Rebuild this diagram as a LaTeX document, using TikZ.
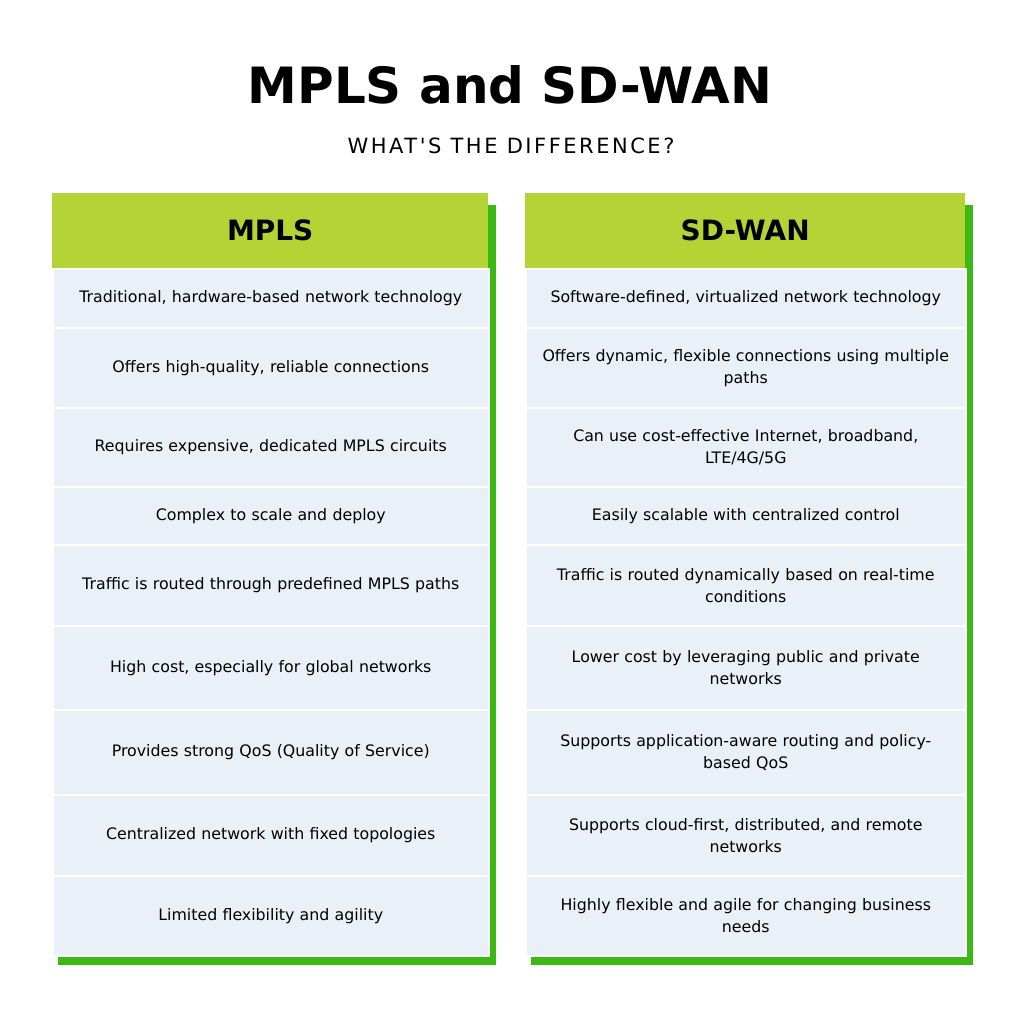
\documentclass[tikz,border=0pt]{standalone}
\usepackage{fontspec}
\setmainfont{DejaVu Sans}
\newfontfamily\spacedfont[LetterSpace=12]{DejaVu Sans}
\usetikzlibrary{positioning}
\definecolor{headgreen}{HTML}{B5D334}
\definecolor{shadegreen}{HTML}{3CB815}
\definecolor{rowfill}{HTML}{EAF0F8}
\tikzset{
  rowcell/.style={draw=white, line width=1.5pt, fill=rowfill, minimum width=436pt, text width=430pt, align=center, inner sep=0pt, font=\fontsize{15.8}{22}\selectfont},
  headcell/.style={fill=headgreen, minimum width=436pt, minimum height=75pt, inner sep=0pt, font=\fontsize{28}{32}\bfseries},
}
\begin{document}
\begin{tikzpicture}[x=1pt,y=-1pt]
  \useasboundingbox[fill=white] (0,0) rectangle (1024,1024);
  \node (title) at (510,85) {\fontsize{50}{60}\bfseries MPLS and SD-WAN};
  \node (subtitle) at (511,146) {\fontsize{21}{24}\selectfont\spacedfont WHAT'S THE DIFFERENCE?};
  % green shadows
  \fill[shadegreen] (58,205) rectangle (496,965);
  \fill[shadegreen] (531,205) rectangle (973,965);
  % header
  \node (lhead) [headcell, anchor=north west] at (52,193) {MPLS};
  \node (rhead) [headcell, anchor=north west, minimum width=440pt] at (525,193) {SD-WAN};
  % rows
  \foreach \ya/\yb/\ltxt/\rtxt [count=\i] in {
    268/327/{Traditional, hardware-based network technology}/{Software-defined, virtualized network technology},
    327/407/{Offers high-quality, reliable connections}/{Offers dynamic, flexible connections using multiple\\paths},
    407/486/{Requires expensive, dedicated MPLS circuits}/{Can use cost-effective Internet, broadband,\\LTE/4G/5G},
    486/544/{Complex to scale and deploy}/{Easily scalable with centralized control},
    544/625/{Traffic is routed through predefined MPLS paths}/{Traffic is routed dynamically based on real-time\\conditions},
    625/709/{High cost, especially for global networks}/{Lower cost by leveraging public and private\\networks},
    709/794/{Provides strong QoS (Quality of Service)}/{Supports application-aware routing and policy-\\based QoS},
    794/875/{Centralized network with fixed topologies}/{Supports cloud-first, distributed, and remote\\networks},
    875/955/{Limited flexibility and agility}/{Highly flexible and agile for changing business\\needs}} {
    \pgfmathsetmacro{\h}{\yb-\ya}
    \node (lrow\i) [rowcell, anchor=north west, minimum height=\h pt] at (52,\ya) {\ltxt};
    \node (rrow\i) [rowcell, anchor=north west, minimum height=\h pt, minimum width=440pt, text width=434pt] at (525,\ya) {\rtxt};
  }
\end{tikzpicture}
\end{document}
